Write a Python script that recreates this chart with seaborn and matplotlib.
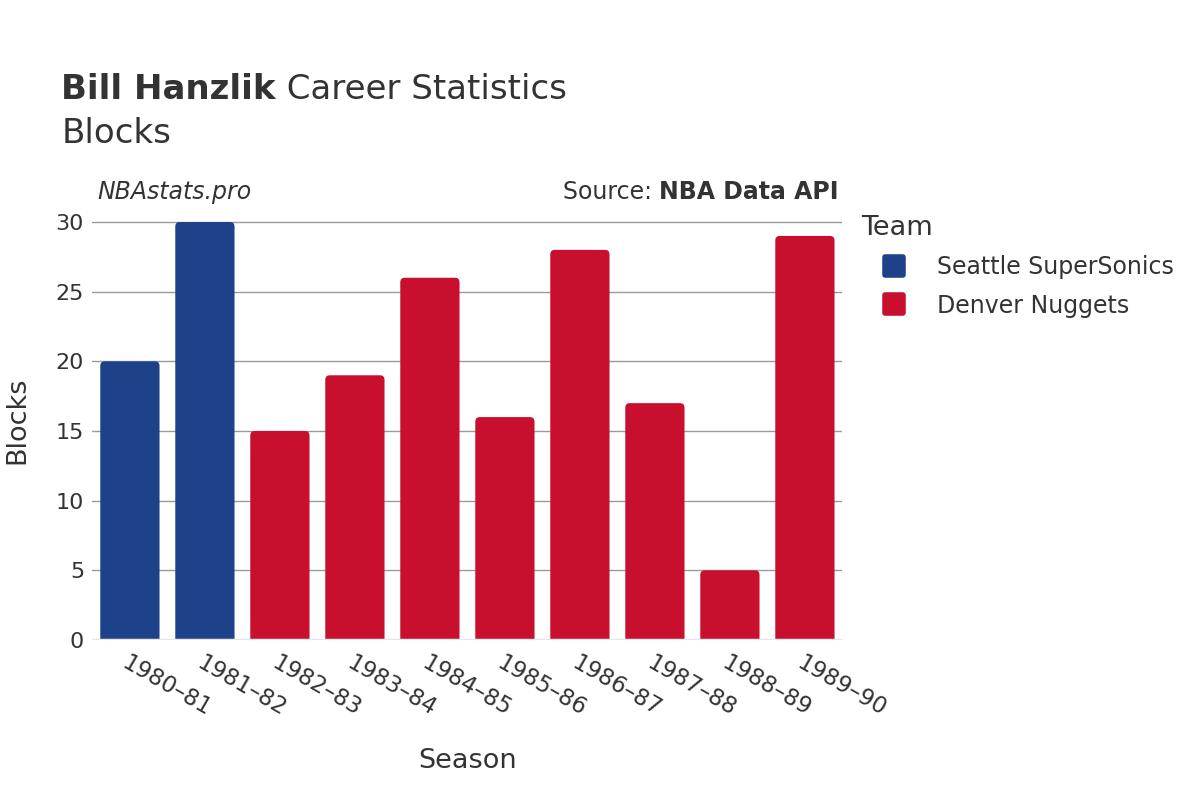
import matplotlib
matplotlib.use('Agg')
import matplotlib.pyplot as plt
import seaborn as sns
import pandas as pd
from matplotlib.lines import Line2D
from matplotlib.markers import MarkerStyle
from matplotlib.patches import FancyBboxPatch

seasons = ['1980–81', '1981–82', '1982–83', '1983–84', '1984–85',
           '1985–86', '1986–87', '1987–88', '1988–89', '1989–90']
teams = ['Seattle SuperSonics', 'Seattle SuperSonics', 'Denver Nuggets', 'Denver Nuggets',
         'Denver Nuggets', 'Denver Nuggets', 'Denver Nuggets', 'Denver Nuggets',
         'Denver Nuggets', 'Denver Nuggets']
blocks = [20, 30, 15, 19, 26, 16, 28, 17, 5, 29]
team_colors = {'Seattle SuperSonics': '#1D428A', 'Denver Nuggets': '#C8102E'}

df = pd.DataFrame({'Season': seasons, 'Team': teams, 'Blocks': blocks})

sns.set_style('white')
plt.rcParams['font.family'] = ['DejaVu Sans']
txt = '#333333'

fig = plt.figure(figsize=(12, 8), dpi=100)
ax = fig.add_axes([0.077, 0.2, 0.625, 0.55])

sns.barplot(data=df, x='Season', y='Blocks', hue='Team', palette=team_colors,
            dodge=False, width=0.79, saturation=1, legend=False, ax=ax)

ax.set_ylim(0, 31.58)
ax.set_xlim(-0.5, 9.5)

# rounded tops for the bars
for p in list(ax.patches):
    x, y = p.get_x(), p.get_y()
    w, h = p.get_width(), p.get_height()
    if h <= 0:
        continue
    fb = FancyBboxPatch((x, y - 1), w, h + 1,
                        boxstyle='round,pad=0,rounding_size=0.06',
                        mutation_aspect=5.4, facecolor=p.get_facecolor(),
                        edgecolor='none', zorder=2)
    p.remove()
    ax.add_patch(fb)

ax.set_yticks([0, 5, 10, 15, 20, 25, 30])
ax.grid(axis='y', color='#9a9a9a', linewidth=1)
ax.set_axisbelow(True)
ax.axhline(0, color='#e6e6ee', linewidth=2.5, zorder=3)
for s in ax.spines.values():
    s.set_visible(False)
ax.tick_params(axis='both', length=0, labelsize=16, labelcolor=txt)
ax.tick_params(axis='x', labelsize=16.5, pad=8)
ax.tick_params(axis='y', pad=6)
plt.setp(ax.get_xticklabels(), rotation=-30, ha='left', rotation_mode='anchor')
ax.set_xlabel('Season', fontsize=19.5, color=txt, labelpad=20)
ax.set_ylabel('Blocks', fontsize=19.5, color=txt, labelpad=18)

fig.canvas.draw()
r = fig.canvas.get_renderer()
inv = fig.transFigure.inverted()

t1 = fig.text(0.051, 0.8675, 'Bill Hanzlik', fontsize=24.5, fontweight='bold', color=txt, va='bottom')
bb = t1.get_window_extent(renderer=r)
x_end = inv.transform((bb.x1, bb.y0))[0]
fig.text(x_end, 0.8675, ' Career Statistics', fontsize=24.5, color=txt, va='bottom')
fig.text(0.051, 0.812, 'Blocks', fontsize=24.5, color=txt, va='bottom')

fig.text(0.081, 0.76, 'NBAstats.pro', fontsize=17, style='italic', color=txt, va='center')
t2 = fig.text(0.699, 0.76, 'NBA Data API', fontsize=17, fontweight='bold', color=txt,
              va='center', ha='right')
bb2 = t2.get_window_extent(renderer=r)
x_start = inv.transform((bb2.x0, bb2.y0))[0]
fig.text(x_start, 0.76, 'Source: ', fontsize=17, color=txt, va='center', ha='right')

sq = MarkerStyle('s', joinstyle='round')
handles = [Line2D([0], [0], marker=sq, linestyle='', markersize=13, markeredgewidth=4,
                  markerfacecolor=c, markeredgecolor=c) for c in team_colors.values()]
leg = fig.legend(handles, list(team_colors.keys()), title='Team', loc='upper left',
                 bbox_to_anchor=(0.70, 0.7575), frameon=False, fontsize=17,
                 title_fontsize=19.5, labelspacing=0.6, handlelength=2.8,
                 handletextpad=0.4)
leg._legend_box.align = 'left'
for t in leg.get_texts():
    t.set_color(txt)
leg.get_title().set_color(txt)

fig.savefig('out.png', dpi=100)
